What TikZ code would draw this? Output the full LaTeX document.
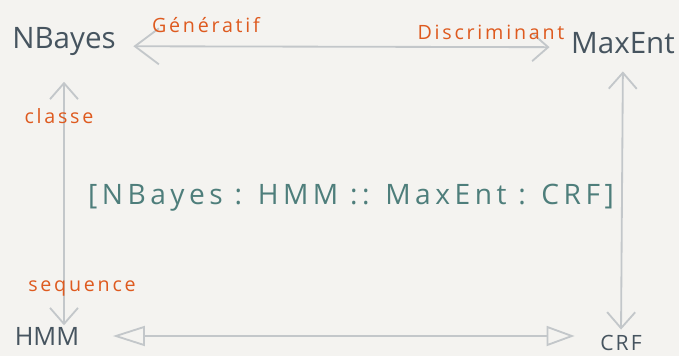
\documentclass[tikz,border=0pt]{standalone}
\usepackage{fontspec}
\setmainfont{Open Sans}
\usetikzlibrary{arrows.meta}
\definecolor{slate}{HTML}{46545F}
\definecolor{rust}{HTML}{DE5A1F}
\definecolor{teal}{HTML}{4E7E7B}
\definecolor{pencil}{HTML}{C3C7CA}
\definecolor{paper}{HTML}{F4F3F0}

\begin{document}
\begin{tikzpicture}[x=0.025cm, y=-0.025cm,
    term/.style={text=slate, inner sep=1pt, font=\fontsize{21}{24}\selectfont},
    note/.style={text=rust, inner sep=1pt, font=\fontsize{14}{16}\selectfont\addfontfeatures{LetterSpace=14}},
    link/.style={draw=pencil, line width=1.3pt, line cap=round,
      {Straight Barb[length=4mm, width=7mm]}-{Straight Barb[length=4mm, width=7mm]}},
    flat/.style={draw=pencil, line width=1.3pt, line cap=round,
      {Triangle[open, length=8mm, width=5mm]}-{Triangle[open, length=7mm, width=5mm]}}]
    \fill[paper] (0,0) rectangle (679,356);
    \useasboundingbox (0,0) rectangle (679,356);

    \node[term] (nbayes) at (64,42) {NBayes};
    \node[term] (maxent) at (623,43) {MaxEnt};
    \node[term, font=\fontsize{18}{20}\selectfont] (hmm) at (47,336) {HMM};
    \node[term, font=\fontsize{15}{18}\selectfont\addfontfeatures{LetterSpace=10}] (crf) at (621,343) {CRF};

    % top arrow gets a wider head on the NBayes side
    \draw[link, {Straight Barb[length=6mm, width=9mm]}-{Straight Barb[length=4mm, width=7mm]},
      shorten <=4mm, shorten >=5mm] ([yshift=-3pt]nbayes.east) -- ([yshift=-3pt]maxent.west);
    \draw[link, shorten <=6mm] (nbayes.south) -- (nbayes.south |- hmm.north);
    \draw[link, shorten <=4mm, shorten >=1mm] (maxent.south) -- (crf.north);
    \draw[flat, shorten <=8mm, shorten >=6mm] (hmm.east) -- (hmm.east -| crf.west);

    \node[note] (gen) at (206,25) {Génératif};
    \node[note] (disc) at (491,32) {Discriminant};
    \node[note] (cls) at (59,116) {classe};
    \node[note] (seq) at (82,288) {sequence};

    \node[text=teal, font=\fontsize{20}{24}\selectfont\addfontfeatures{LetterSpace=16}] (analogy) at (351,198)
      {[NBayes : HMM :: MaxEnt : CRF]};
  \end{tikzpicture}
\end{document}
